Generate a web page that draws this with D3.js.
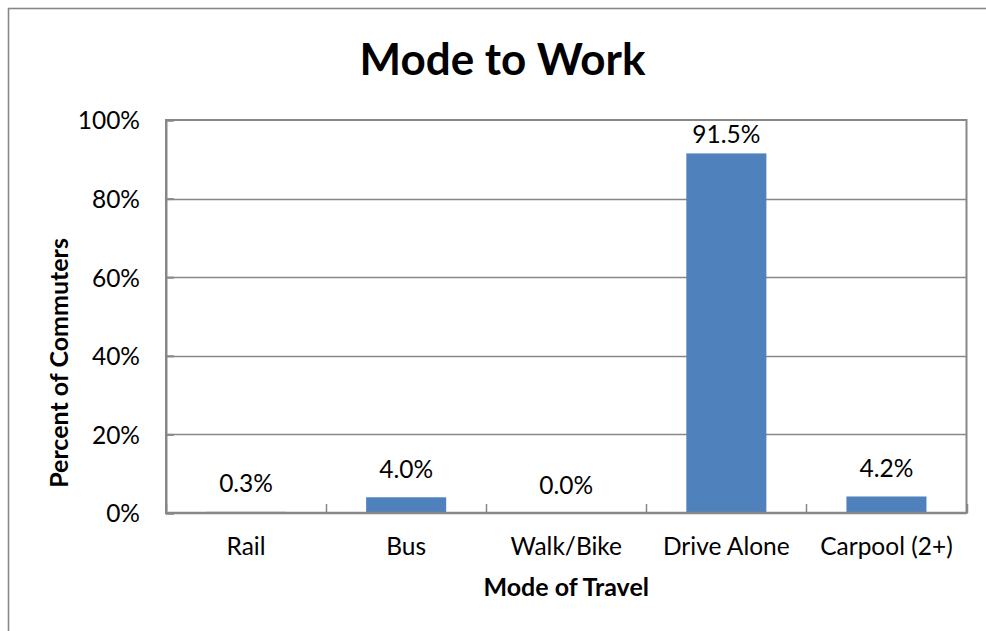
<!DOCTYPE html>
<html>
<head>
<meta charset="utf-8">
<script src="https://cdn.jsdelivr.net/npm/d3@7"></script>
<style>
  html, body { margin: 0; padding: 0; background: #fff; }
  svg { display: block; }
  text { font-family: Lato, "Open Sans", sans-serif; fill: #000; }
</style>
</head>
<body>
<svg id="chart" width="986" height="631"></svg>
<script>
// ---- data ----
const categories = ["Rail", "Bus", "Walk/Bike", "Drive Alone", "Carpool (2+)"];
const values = [0.3, 4.0, 0.0, 91.5, 4.2];
const valueLabels = ["0.3%", "4.0%", "0.0%", "91.5%", "4.2%"];
const yTicks = [0, 20, 40, 60, 80, 100];
const yTickLabels = ["0%", "20%", "40%", "60%", "80%", "100%"];
const title = "Mode to Work";
const xTitle = "Mode of Travel";
const yTitle = "Percent of Commuters";

// ---- layout ----
const plot = { left: 166, top: 120, right: 966.5, bottom: 513 };
const gray = "#878787";
const barColor = "#4F81BD";
const labelSize = 24.5;
const axisTitleSize = 25;

const svg = d3.select("#chart");

// outer chart border (extends past the visible area on right/bottom)
svg.append("rect")
  .attr("x", 8.5).attr("y", 8.5)
  .attr("width", 988).attr("height", 709)
  .attr("fill", "none").attr("stroke", gray).attr("stroke-width", 1.6);

const x = d3.scaleBand()
  .domain(categories)
  .range([plot.left, plot.right])
  .paddingInner(0.5)
  .paddingOuter(0.25);

const y = d3.scaleLinear()
  .domain([0, 100])
  .range([plot.bottom, plot.top]);

// gridlines
svg.append("g").selectAll("line")
  .data(yTicks.filter(d => d > 0 && d < 100))
  .join("line")
  .attr("x1", plot.left).attr("x2", plot.right)
  .attr("y1", d => Math.round(y(d)) + 0.5).attr("y2", d => Math.round(y(d)) + 0.5)
  .attr("stroke", gray).attr("stroke-width", 1.3);

// plot area border
svg.append("rect")
  .attr("x", plot.left).attr("y", plot.top)
  .attr("width", plot.right - plot.left).attr("height", plot.bottom - plot.top)
  .attr("fill", "none").attr("stroke", gray).attr("stroke-width", 2);

// bars
svg.append("g").selectAll("rect")
  .data(categories)
  .join("rect")
  .attr("x", d => x(d))
  .attr("width", x.bandwidth())
  .attr("y", (d, i) => y(values[i]))
  .attr("height", (d, i) => plot.bottom - y(values[i]))
  .attr("fill", barColor);

// y axis (ticks inside, labels at left)
const yAxis = d3.axisLeft(y)
  .tickValues(yTicks)
  .tickSize(-8)
  .tickPadding(26)
  .tickFormat((d, i) => yTickLabels[i]);
const gy = svg.append("g")
  .attr("transform", `translate(${plot.left},0)`)
  .call(yAxis);
gy.select(".domain").attr("stroke", gray).attr("stroke-width", 2);
gy.selectAll(".tick line").attr("stroke", gray).attr("stroke-width", 2);
gy.selectAll(".tick text")
  .attr("font-size", labelSize)
  .attr("font-family", "Lato, 'Open Sans', sans-serif")
  .attr("fill", "#000")
  .attr("dy", "0.36em");

// x axis (category boundary ticks inside)
const boundaries = d3.range(categories.length + 1).map(i => plot.left + i * x.step());
svg.append("g").selectAll("line")
  .data(boundaries)
  .join("line")
  .attr("x1", d => Math.round(d) + 0.5).attr("x2", d => Math.round(d) + 0.5)
  .attr("y1", plot.bottom).attr("y2", plot.bottom - 9)
  .attr("stroke", gray).attr("stroke-width", 1.5);
svg.append("line")
  .attr("x1", plot.left).attr("x2", plot.right)
  .attr("y1", plot.bottom).attr("y2", plot.bottom)
  .attr("stroke", gray).attr("stroke-width", 2.5);

svg.append("g").selectAll("text")
  .data(categories)
  .join("text")
  .attr("x", d => x(d) + x.bandwidth() / 2)
  .attr("y", 555)
  .attr("text-anchor", "middle")
  .attr("font-size", labelSize)
  .text(d => d);

// value labels
svg.append("g").selectAll("text")
  .data(categories)
  .join("text")
  .attr("x", d => x(d) + x.bandwidth() / 2)
  .attr("y", (d, i) => Math.max(y(values[i]) - 19.5, plot.top + 22.5))
  .attr("text-anchor", "middle")
  .attr("font-size", labelSize)
  .text((d, i) => valueLabels[i]);

// titles
svg.append("text")
  .attr("x", 502.5).attr("y", 75)
  .attr("text-anchor", "middle")
  .attr("font-size", 44).attr("font-weight", "bold")
  .text(title);

svg.append("text")
  .attr("x", (plot.left + plot.right) / 2).attr("y", 596)
  .attr("text-anchor", "middle")
  .attr("font-size", axisTitleSize).attr("font-weight", "bold")
  .text(xTitle);

svg.append("text")
  .attr("transform", "translate(68,363) rotate(-90)")
  .attr("text-anchor", "middle")
  .attr("font-size", axisTitleSize).attr("font-weight", "bold")
  .text(yTitle);
</script>
</body>
</html>
